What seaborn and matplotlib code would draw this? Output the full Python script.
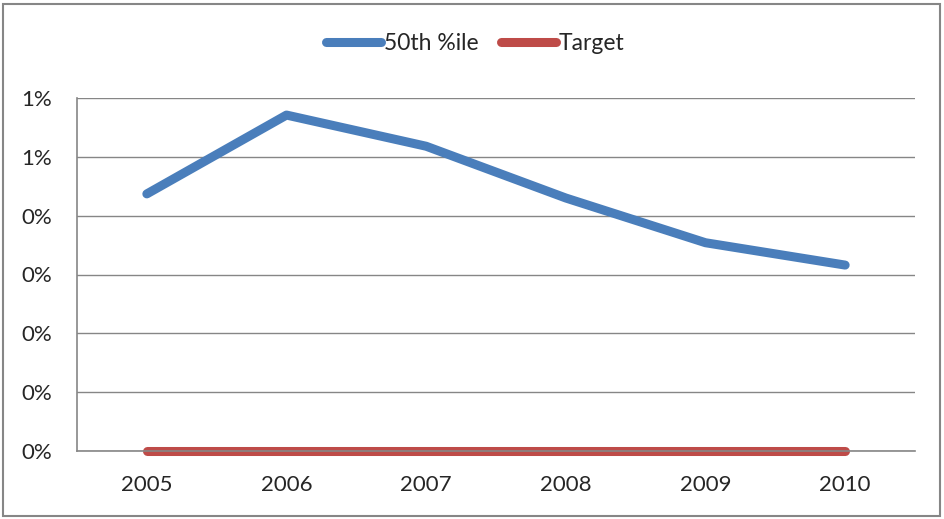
import matplotlib
matplotlib.use("Agg")
import matplotlib.pyplot as plt
import seaborn as sns
import pandas as pd
from matplotlib.ticker import FuncFormatter, MultipleLocator
from matplotlib.patches import Rectangle

# ---------------- data ----------------
years = ["2005", "2006", "2007", "2008", "2009", "2010"]
pct_50th = [0.00437, 0.00571, 0.00518, 0.00430, 0.00354, 0.00316]
target = [0.0, 0.0, 0.0, 0.0, 0.0, 0.0]

BLUE = "#4A7EBB"
RED = "#BE4B48"
GREY = "#868686"

sns.set_style("white")
plt.rcParams["font.family"] = ["Lato", "DejaVu Sans"]

df = pd.DataFrame({
    "x": list(range(len(years))) * 2,
    "value": pct_50th + target,
    "series": ["50th %ile"] * len(years) + ["Target"] * len(years),
})

fig = plt.figure(figsize=(9.45, 5.19), dpi=100)
ax = fig.add_axes([77 / 945, 1 - 451 / 519, (915 - 77) / 945, (451 - 98) / 519])

sns.lineplot(data=df, x="x", y="value", hue="series",
             palette={"50th %ile": BLUE, "Target": RED},
             linewidth=6.5, ax=ax, legend=False, clip_on=False,
             solid_capstyle="round", solid_joinstyle="round")

ax.set_xlim(-0.5, len(years) - 0.5)
ax.set_ylim(0, 0.006)
ax.yaxis.set_major_locator(MultipleLocator(0.001))
ax.yaxis.set_major_formatter(FuncFormatter(lambda v, p: f"{int(v * 100 + 0.5 + 1e-9)}%"))
ax.set_xticks([i - 0.5 for i in range(len(years) + 1)])
ax.set_xticklabels([])
ax.set_xticks(range(len(years)), minor=True)
ax.set_xticklabels(years, minor=True)
ax.tick_params(axis="x", which="minor", length=0, pad=17, labelsize=16)
ax.tick_params(axis="x", which="major", length=7, width=1, color=GREY, direction="out")
ax.tick_params(axis="y", length=7, width=1, color=GREY, direction="out", pad=11, labelsize=16)
ax.set_xlabel("")
ax.set_ylabel("")

ax.grid(axis="y", color=GREY, linewidth=1)
ax.set_axisbelow(True)
for s in ["top", "right"]:
    ax.spines[s].set_visible(False)
for s in ["left", "bottom"]:
    ax.spines[s].set_color(GREY)
    ax.spines[s].set_linewidth(1.2)

# legend at top centre
handles = [plt.Line2D([0], [0], color=BLUE, lw=6.5, solid_capstyle="round"),
           plt.Line2D([0], [0], color=RED, lw=6.5, solid_capstyle="round")]
fig.legend(handles, ["50th %ile", "Target"], loc="center", bbox_to_anchor=(0.503, 1 - 44 / 519),
           ncol=2, frameon=False, fontsize=16.5, handlelength=2.4, handletextpad=0.1,
           columnspacing=1.0)

# chart-area border
fig.patches.append(Rectangle((3 / 945, 3 / 519), 937 / 945, 512 / 519, transform=fig.transFigure,
                             fill=False, edgecolor=GREY, linewidth=1.5))

fig.savefig("out.png", dpi=100)
